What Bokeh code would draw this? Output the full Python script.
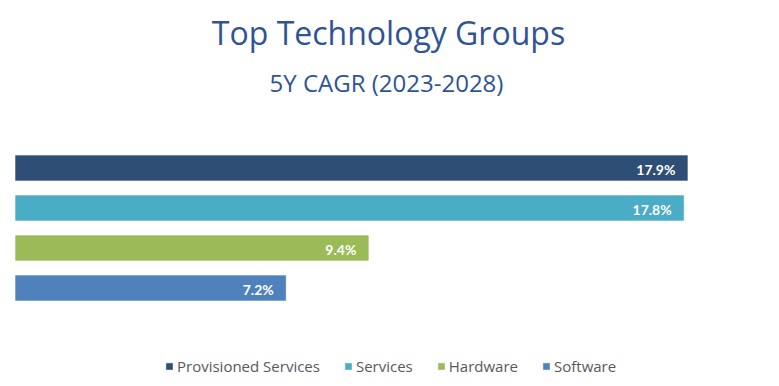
from bokeh.plotting import figure
from bokeh.models import Range1d, Label, Legend, LegendItem, ColumnDataSource
from bokeh.core.properties import value
from bokeh.embed import file_html
from bokeh.resources import INLINE

title_text = "Top Technology Groups"
subtitle_text = "5Y CAGR (2023-2028)"
categories = ["Provisioned Services", "Services", "Hardware", "Software"]
cagr = [17.9, 17.8, 9.4, 7.2]
labels = ["17.9%", "17.8%", "9.4%", "7.2%"]
colors = ["#2E4E76", "#4BACC6", "#9BBB59", "#4F81BD"]

W, H = 771, 378
px_per_unit = 37.54
x0 = 15.0
x_start = -x0 / px_per_unit
x_end = (W - x0) / px_per_unit
pitch = 40.0
top_center = 167.5
y_end = -top_center / pitch
y_start = y_end + H / pitch

p = figure(width=W, height=H, output_backend="svg", toolbar_location=None,
           x_range=Range1d(x_start, x_end), y_range=Range1d(y_start, y_end),
           min_border=0, outline_line_color=None)
p.axis.visible = False
p.grid.visible = False

idx = list(range(len(categories)))
src = ColumnDataSource(dict(y=idx, right=cagr, color=colors, cat=categories, lab=labels))
renderers = []
for i in idx:
    r = p.hbar(y=[idx[i]], right=[cagr[i]], left=0, height=0.62,
               fill_color=colors[i], line_color=colors[i], line_alpha=0.4)
    renderers.append(r)

p.text(x="right", y="y", text="lab", source=src, x_offset=-12, y_offset=1,
       text_align="right", text_baseline="middle", text_color="white",
       text_font=value("Lato"), text_font_style="bold",
       text_font_size="14px")

p.add_layout(Label(x=388, y=H - 32, x_units="screen", y_units="screen",
                   text=title_text, text_align="center", text_baseline="middle",
                   text_font="Open Sans", text_font_size="32px", text_color="#2F5496"))
p.add_layout(Label(x=386, y=H - 82, x_units="screen", y_units="screen",
                   text=subtitle_text, text_align="center", text_baseline="middle",
                   text_font="Open Sans", text_font_size="24px", text_color="#2F5496"))

legend = Legend(items=[LegendItem(label=categories[i], renderers=[renderers[i]]) for i in idx],
                orientation="horizontal", location=(165, 2),
                glyph_width=8, glyph_height=8, label_standoff=4, spacing=24,
                label_text_font="Open Sans", label_text_font_size="15px",
                label_text_color="#595959", border_line_color=None,
                background_fill_alpha=0, padding=0, margin=0)
p.add_layout(legend, "center")

open("out.html", "w").write(file_html(p, INLINE))
